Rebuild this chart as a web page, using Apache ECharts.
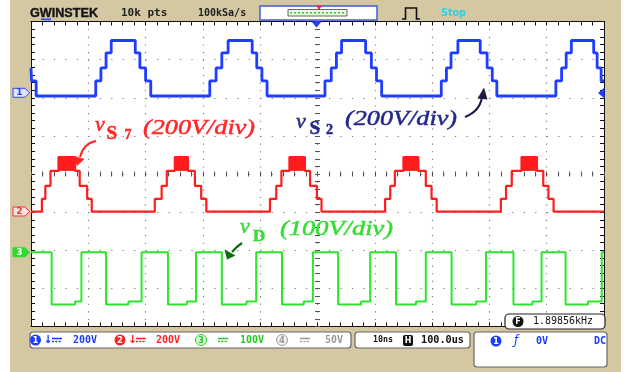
<!DOCTYPE html>
<html><head><meta charset="utf-8">
<script src="https://cdn.jsdelivr.net/npm/echarts@6/dist/echarts.min.js"></script>
<style>
html,body{margin:0;padding:0;background:#fff;}
#wrap{position:relative;width:630px;height:372px;overflow:hidden;background:#fff;}
#frame{position:absolute;left:10px;top:0;width:611px;height:372px;background:#d4c8a3;}
#chart{position:absolute;left:0;top:0;width:630px;height:372px;}
</style></head>
<body><div id="wrap"><div id="frame"></div><div id="chart"></div></div>
<script>
// ---- horizontal: 100 us/div, 10 div, trigger at centre ----
const timeSpan = [-500, 500];
const timePerDiv = 100;

// ---- channel settings (V/div, ground offset in div above screen centre) ----
const chScale = [200, 200, 100];
const chGround = [2.046, -0.989, -2.054];

// ---- CH1 : v_S2  [time us, level V] at each step (step:'end') ----
const vS2 = [[-500,147],[-499,79],[-491,0],
 [-387,79],[-378,147],[-369,226],[-360,291],[-318,226],[-310,147],[-300,79],[-291,0],
 [-188,79],[-177,147],[-167,226],[-156,291],[-114,226],[-106,147],[-97,79],[-88,0],
 [13,79],[24,147],[33,226],[42,291],[84,226],[94,147],[103,79],[112,0],
 [216,79],[225,147],[233,226],[245,291],[284,226],[296,147],[305,79],[313,0],
 [416,79],[426,147],[434,226],[443,291],[482,226],[488,147],[495,79],[500,79]];

// ---- CH2 : v_S7 ----
const vS7 = [[-500,0],[-481,67],[-475,135],[-466,214],[-452,287],[-423,214],[-415,135],[-402,67],[-394,0],
 [-284,67],[-272,135],[-263,214],[-249,287],[-226,214],[-214,135],[-203,67],[-194,0],
 [-83,67],[-72,135],[-63,214],[-49,287],[-22,214],[-13,135],[-1,67],[7,0],
 [118,67],[127,135],[135,214],[150,287],[176,214],[189,135],[199,67],[208,0],
 [320,67],[329,135],[339,214],[356,287],[383,214],[394,135],[403,67],[412,0],[500,0]];
// chopping (PWM) intervals at the top of v_S7, and the band they switch between
const vS7Chop = [[-452,-423],[-249,-226],[-49,-22],[150,176],[356,383]];
const vS7ChopBand = [214, 287];

// ---- CH3 : v_D ----
const vD = [[-500,0],[-464,-137],[-423,-129],[-412,0],
 [-369,-137],[-330,-129],[-307,0],
 [-261,-137],[-228,-129],[-212,0],
 [-167,-137],[-124,-129],[-107,0],
 [-62,-137],[-24,-129],[-8,0],
 [36,-137],[76,-129],[92,0],
 [137,-137],[172,-129],[189,0],
 [234,-137],[277,-129],[294,0],
 [342,-137],[375,-129],[391,0],
 [433,-137],[472,-129],[496,0],[500,0]];

const chColors = ['#1f3dff', '#ff1c1c', '#2be62b'];

// ---------- helpers for decorations ----------
const mctx = document.createElement('canvas').getContext('2d');
function fit(text, font, w){ mctx.font = font; return w / mctx.measureText(text).width; }
function T(x, y, text, font, fill, opt){
  opt = opt || {};
  const el = {type:'text', x:x, y:y, z:100, silent:true,
    style:{text:text, font:font, fill:fill, x:0, y:0,
      stroke: opt.bold ? fill : null, lineWidth: opt.bold || 0,
      textAlign:opt.align||'left', align:opt.align||'left',
      textVerticalAlign:'middle', verticalAlign:'middle'}};
  if (opt.w) { el.scaleX = fit(text, font, opt.w); }
  return el;
}
function R(x, y, w, h, fill, stroke, lw, r){
  return {type:'rect', z:90, silent:true, shape:{x:x,y:y,width:w,height:h,r:r||0},
    style:{fill:fill, stroke:stroke||null, lineWidth:lw||1}};
}
function C(cx, cy, r, fill, stroke){
  return {type:'circle', z:95, silent:true, shape:{cx:cx,cy:cy,r:r}, style:{fill:fill, stroke:stroke||null, lineWidth:1}};
}
function P(pts, fill, z){ return {type:'polygon', z:z||95, silent:true, shape:{points:pts}, style:{fill:fill}}; }
function L(pts, stroke, lw, dash){ return {type:'polyline', z:95, silent:true, shape:{points:pts}, style:{fill:null, stroke:stroke, lineWidth:lw||1, lineDash:dash||null}}; }
function B(x1,y1,cx,cy,x2,y2,stroke,lw){ return {type:'bezierCurve', z:95, silent:true, shape:{x1:x1,y1:y1,cpx1:cx,cpy1:cy,x2:x2,y2:y2}, style:{fill:null, stroke:stroke, lineWidth:lw}}; }
function dcSym(x, y, col){ return [L([[x,y-1.5],[x+10,y-1.5]], col, 1.5), L([[x,y+1.5],[x+10,y+1.5]], col, 1.5, [2,1.3])]; }
function chip(y, fill, stroke, txtCol, label){
  return [ {type:'polygon', z:95, silent:true, shape:{points:[[13,y-4.5],[25,y-4.5],[29.5,y],[25,y+4.5],[13,y+4.5]]}, style:{fill:fill, stroke:stroke, lineWidth:1}},
    T(19.5, y, label, 'bold 9px "DejaVu Sans"', txtCol, {align:'center'}) ];
}

const mono = '"DejaVu Sans Mono"';
const serif = '"Liberation Serif"';
const navy = '#23278c';
const g = [];
// top bar
g.push(T(30, 13, 'GWINSTEK', 'bold 13px "Liberation Sans"', '#151515', {w:68, bold:0.4}));
g.push(R(41, 18.5, 10, 1.8, '#2a4cff'));
g.push(T(121, 13.5, '10k pts', 'bold 11px ' + mono, '#222'));
g.push(T(198, 13.5, '100kSa/s', 'bold 10px ' + mono, '#222'));
g.push(R(260, 6, 117, 14, '#fff', '#3f5fd8', 1.5));
g.push(R(288, 9.5, 59, 6.5, '#eaf7e2', '#666', 1));
g.push(L([[290,12.7],[345,12.7]], '#33cc33', 1.5, [2,2]));
g.push(P([[316,5.5],[322,5.5],[319,10]], '#ff2020'));
g.push(L([[402,19],[405.5,19],[405.5,8],[416.5,8],[416.5,19],[420,19]], '#111', 1.6));
g.push(T(441, 13.5, 'Stop', 'bold 11px "DejaVu Sans"', '#26d3e6', {w:25}));
// trigger markers
g.push(P([[311.5,21.5],[321.5,21.5],[316.5,27.5]], '#1f3dff'));
g.push(P([[598,93],[604.5,87.5],[604.5,98.5]], '#1f3dff'));
// channel ground chips
g.push(...chip(92.8, '#dfe4ff', '#2a45ff', '#2a45ff', '1'));
g.push(...chip(211.5, '#ffe3e3', '#ff3030', '#ff3030', '2'));
g.push(...chip(252.3, '#2bdc2b', '#2bdc2b', '#ffffff', '3'));
// annotations: red
const ab = 0.5;
g.push(T(95, 125.5, 'v', 'italic 22px ' + serif, '#ff2626', {bold:ab}));
g.push(T(106.5, 134, 'S', 'bold 19px ' + serif, '#ff2626', {bold:ab}));
g.push(T(124.5, 135.5, '7', 'bold 14px ' + serif, '#ff2626', {bold:ab}));
g.push(T(143, 128, '(200V/div)', 'italic 22px ' + serif, '#ff2626', {w:112, bold:ab}));
g.push(B(96,141, 84,143, 80,157, '#ff2626', 2));
g.push(P([[77,166],[74,156],[84.5,159]], '#ff2626'));
// annotations: navy
g.push(T(296, 122.5, 'v', 'italic 22px ' + serif, navy, {bold:ab}));
g.push(T(309.5, 129, 'S', 'bold 19px ' + serif, navy, {bold:ab}));
g.push(T(326, 130.5, '2', 'bold 14px ' + serif, navy, {bold:ab}));
g.push(T(345, 119.5, '(200V/div)', 'italic 22px ' + serif, navy, {w:112, bold:ab}));
g.push(B(465,117, 480,111, 482,97, '#1b1b45', 2));
g.push(P([[484,87.5],[477.5,98.5],[487.5,99.5]], '#1b1b45'));
// annotations: green
g.push(T(240, 227.5, 'v', 'italic 22px ' + serif, '#33dd33', {bold:ab}));
g.push(T(253, 236.5, 'D', 'bold 17px ' + serif, '#33dd33', {bold:ab}));
g.push(T(280, 229.5, '(100V/div)', 'italic 22px ' + serif, '#33dd33', {w:113, bold:ab}));
g.push(B(242,243, 236,247, 232,252, '#0b6e12', 2.2));
g.push(P([[227,259.5],[224.5,249.5],[235.5,255.5]], '#0b6e12'));
// frequency box
g.push(R(505, 314, 100, 15, '#fff', '#222', 1.2, 4));
g.push(C(518, 321.5, 5.5, '#111'));
g.push(T(518, 321.8, 'F', 'bold 8px "DejaVu Sans"', '#fff', {align:'center'}));
g.push(T(533, 321.8, '1.89856kHz', '10px ' + mono, '#111', {w:60}));
// bottom bar
g.push(R(30, 332, 321, 16, '#fff', '#666', 1.2, 3));
g.push(R(355, 332, 115, 16, '#fff', '#666', 1.2, 3));
g.push(R(474, 332, 133, 35, '#fff', '#666', 1.2, 3));
const blueT = '#1a3cff', redT = '#ff2020', greenT = '#22cc22', grayT = '#9a9a9a';
g.push(C(35.5, 340, 5.5, blueT)); g.push(T(35.5, 340.3, '1', 'bold 8.5px "DejaVu Sans"', '#fff', {align:'center'}));
g.push(T(43.5, 340, '↓', 'bold 11px "DejaVu Sans"', blueT)); g.push(...dcSym(52, 340, blueT));
g.push(T(73, 340, '200V', 'bold 10px ' + mono, blueT));
g.push(C(120, 340, 5.5, redT)); g.push(T(120, 340.3, '2', 'bold 8.5px "DejaVu Sans"', '#fff', {align:'center'}));
g.push(T(128, 340, '↓', 'bold 11px "DejaVu Sans"', redT)); g.push(...dcSym(136, 340, redT));
g.push(T(156, 340, '200V', 'bold 10px ' + mono, redT));
g.push(C(201, 340, 5.5, '#eaffea', greenT)); g.push(T(201, 340.3, '3', 'bold 8.5px "DejaVu Sans"', greenT, {align:'center'}));
g.push(...dcSym(218, 340, greenT));
g.push(T(240, 340, '100V', 'bold 10px ' + mono, greenT));
g.push(C(282, 340, 5.5, '#f2f2f2', grayT)); g.push(T(282, 340.3, '4', 'bold 8.5px "DejaVu Sans"', grayT, {align:'center'}));
g.push(...dcSym(300, 340, grayT));
g.push(T(325, 340, '50V', 'bold 10px ' + mono, grayT));
g.push(T(373, 340, '10ns', 'bold 9.5px ' + mono, '#111', {w:20}));
g.push(R(403, 335, 10, 11, '#111', null, 1, 2)); g.push(T(408, 340.5, 'H', 'bold 8px "DejaVu Sans"', '#fff', {align:'center'}));
g.push(T(421, 340, '100.0us', 'bold 10px ' + mono, '#111', {w:43}));
g.push(C(496, 341, 5.5, blueT)); g.push(T(496, 341.3, '1', 'bold 8.5px "DejaVu Sans"', '#fff', {align:'center'}));
g.push(T(514, 341, 'ƒ', 'italic 12px "DejaVu Sans"', blueT));
g.push(T(536, 341, '0V', 'bold 10px ' + mono, blueT));
g.push(T(594, 341, 'DC', 'bold 10px ' + mono, blueT));

// ---------- axes ----------
const tickCol = '#111';
function borderX(pos, split){
  return {type:'value', min:timeSpan[0], max:timeSpan[1], interval:timePerDiv, position:pos,
    axisLine:{show:true, onZero:false, lineStyle:{color:tickCol, width:1}},
    axisTick:{show:true, inside:true, length:4, lineStyle:{color:tickCol}},
    minorTick:{show:true, splitNumber:5, length:4, lineStyle:{color:tickCol}},
    axisLabel:{show:false},
    splitLine:{show:split, lineStyle:{color:'#7a7a7a', width:1.2, type:[1.2, 6.425]}}};
}
function borderY(pos, split){
  return {type:'value', min:-4, max:4, interval:1, position:pos,
    axisLine:{show:true, onZero:false, lineStyle:{color:tickCol, width:1}},
    axisTick:{show:true, inside:true, length:4, lineStyle:{color:tickCol}},
    minorTick:{show:true, splitNumber:5, length:4, lineStyle:{color:tickCol}},
    axisLabel:{show:false},
    splitLine:{show:split, lineStyle:{color:'#7a7a7a', width:1.2, type:[1.2, 10.26]}}};
}
const centreX = {type:'value', min:timeSpan[0], max:timeSpan[1], interval:timePerDiv, position:'bottom', offset:-150,
  axisLine:{show:false, onZero:false}, axisLabel:{show:false}, splitLine:{show:false},
  axisTick:{show:true, inside:true, length:5, lineStyle:{color:'#555'}},
  minorTick:{show:true, splitNumber:5, length:5, lineStyle:{color:'#555'}}};
const centreY = {type:'value', min:-4, max:4, interval:1, position:'left', offset:-284,
  axisLine:{show:false, onZero:false}, axisLabel:{show:false}, splitLine:{show:false},
  axisTick:{show:true, inside:true, length:5, lineStyle:{color:'#555'}},
  minorTick:{show:true, splitNumber:5, length:5, lineStyle:{color:'#555'}}};
function chAxis(i){
  return {type:'value', min:(-4 - chGround[i]) * chScale[i], max:(4 - chGround[i]) * chScale[i],
    show:false, axisLine:{onZero:false}, splitLine:{show:false}};
}

const chart = echarts.init(document.getElementById('chart'), null, {width:630, height:372});
chart.setOption({
  animation:false,
  backgroundColor:'transparent',
  grid:{left:31, right:26, top:21.5, bottom:45.5, show:true, backgroundColor:'#ffffff', borderWidth:0},
  xAxis:[borderX('bottom', true), borderX('top', false), centreX],
  yAxis:[borderY('left', true), borderY('right', false), centreY, chAxis(0), chAxis(1), chAxis(2)],
  series:[
    {name:'vS2', type:'line', step:'end', data:vS2, xAxisIndex:0, yAxisIndex:3, symbol:'none', silent:true, z:5,
     lineStyle:{color:chColors[0], width:2.8}},
    {name:'vS7', type:'line', step:'end', data:vS7, xAxisIndex:0, yAxisIndex:4, symbol:'none', silent:true, z:5,
     lineStyle:{color:chColors[1], width:2.2},
     markArea:{silent:true, itemStyle:{color:chColors[1]},
       data:vS7Chop.map(c => [{xAxis:c[0], yAxis:vS7ChopBand[0]}, {xAxis:c[1], yAxis:vS7ChopBand[1]}])}},
    {name:'vD', type:'line', step:'end', data:vD, xAxisIndex:0, yAxisIndex:5, symbol:'none', silent:true, z:5,
     lineStyle:{color:chColors[2], width:2}}
  ],
  graphic:{elements:g}
});
</script>
</body></html>
